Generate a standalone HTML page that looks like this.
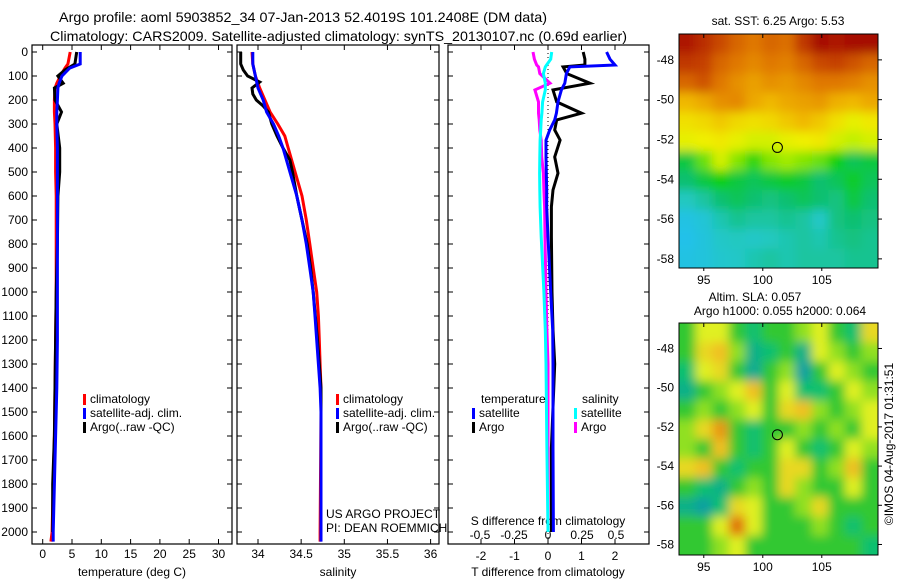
<!DOCTYPE html>
<html><head><meta charset="utf-8"><style>
html,body{margin:0;padding:0;background:#fff}
svg{display:block;font-family:"Liberation Sans",sans-serif}
text{font-size:12px;fill:#000}
</style></head><body>
<svg id="c" width="900" height="580" viewBox="0 0 900 580">
<text x="59" y="22" textLength="488" lengthAdjust="spacingAndGlyphs" style="font-size:14px">Argo profile: aoml 5903852_34 07-Jan-2013 52.4019S 101.2408E (DM data)</text>
<text x="50" y="41" textLength="577" lengthAdjust="spacingAndGlyphs" style="font-size:14px">Climatology: CARS2009. Satellite-adjusted climatology: synTS_20130107.nc (0.69d earlier)</text>
<g id="g"></g>
</svg>
<script>
// ---- data ----
const tDepth = [0,50,67,100,130,150,200,250,300,400,500,600,800,1000,1200,1400,1600,1800,2000,2040];
const tClim  = [4.7,4.3,3.8,3.0,2.4,2.1,2.0,2.0,2.1,2.2,2.2,2.3,2.3,2.3,2.2,2.1,2.0,1.8,1.6,1.4];
const tSat   = [6.4,6.4,4.6,3.3,2.8,2.6,2.5,2.4,2.4,2.5,2.5,2.5,2.5,2.5,2.5,2.4,2.2,2.0,1.8,1.8];
const tArgoD = [0,50,75,100,130,150,200,250,300,400,500,600,800,1000,1200,1400,1600,1800,2000];
const tArgo  = [5.8,5.5,3.8,2.6,3.5,2.0,2.1,3.2,2.4,2.9,2.9,2.6,2.5,2.3,2.2,2.1,2.0,1.7,1.7];
const sDepth = [0,50,100,150,200,250,300,350,400,500,600,700,800,900,1000,1100,1200,1300,1400,1500,2000,2040];
const sClim  = [33.93,33.94,33.97,34.02,34.08,34.14,34.23,34.31,34.35,34.43,34.51,34.56,34.60,34.64,34.68,34.70,34.71,34.72,34.73,34.73,34.72,34.72];
const sSat   = [33.94,33.94,33.97,34.0,34.06,34.10,34.18,34.24,34.29,34.37,34.45,34.51,34.56,34.60,34.64,34.66,34.68,34.70,34.72,34.73,34.73,34.73];
const sArgoD = [0,50,75,100,125,150,175,200,225,250,300,350,400,450,500,600,700,800,900,1000,1200,1400,1500];
const sArgo  = [33.80,33.80,33.83,33.88,34.02,33.93,33.94,33.98,34.06,34.12,34.16,34.22,34.29,34.37,34.40,34.45,34.51,34.57,34.61,34.64,34.69,34.73,34.73];
const dDepth = [0,30,54,62,90,130,158,208,255,283,325,367,437,505,575,645,770,1000,1158,1300,1650,2000];
const dTArgo = [1.05,1.1,1.1,0.45,0.56,1.25,0.15,0.26,1.0,0.26,0.2,0.36,0.2,0.3,0.15,0.1,0.1,0.12,0.15,0.2,0.1,0.1];
const dTSat  = [1.75,1.85,2.0,0.65,0.55,0.5,0.4,0.3,0.25,0.2,0.05,-0.06,-0.06,-0.05,-0.04,-0.04,0.0,0.08,0.14,0.15,0.15,0.16];
const dSArgo = [-0.11,-0.1,-0.083,-0.07,-0.06,0.015,-0.096,-0.07,-0.07,-0.065,-0.06,-0.05,-0.046,-0.034,-0.03,-0.025,-0.022,-0.015,-0.008,0.0,0.0,0.0];
const dSSat  = [0.027,0.02,-0.01,-0.02,-0.034,-0.02,-0.02,-0.04,-0.045,-0.05,-0.054,-0.058,-0.06,-0.062,-0.06,-0.058,-0.05,-0.03,-0.02,-0.015,-0.008,0.0];
const depthTicks = [0,100,200,300,400,500,600,700,800,900,1000,1100,1200,1300,1400,1500,1600,1700,1800,1900,2000];
const tTicks = [0,5,10,15,20,25,30];
const sTicks = [34,34.5,35,35.5,36];
const dTTicks = [-2,-1,0,1,2];
const dSTicks = [-0.5,-0.25,0,0.25,0.5];
const sstLabel = "sat. SST: 6.25 Argo: 5.53";
const sst = [
[8.8,8.6,8.3,8.0,7.8,8.0,7.9,8.5,8.9,8.8,8.9,8.9],
[8.5,8.4,8.0,7.8,7.6,7.8,7.7,8.0,8.3,8.4,8.2,8.0],
[8.0,8.2,7.8,7.5,7.3,7.5,7.4,7.6,7.8,7.8,7.7,7.5],
[7.0,7.2,7.5,7.6,7.2,7.0,7.2,7.3,7.4,7.1,7.0,7.2],
[6.5,6.6,6.8,6.6,6.5,6.6,6.8,7.0,6.8,6.5,6.2,6.4],
[6.2,6.3,6.4,6.2,6.0,6.0,6.2,6.3,6.4,6.0,5.8,6.0],
[5.0,5.5,6.0,5.6,5.3,5.6,5.7,5.6,5.5,5.2,4.9,5.0],
[4.8,5.0,5.2,5.0,4.9,5.0,5.1,5.0,4.8,4.9,5.1,4.9],
[4.3,4.5,4.8,4.9,4.8,4.7,4.8,4.9,4.8,4.7,5.0,4.8],
[3.8,4.0,4.4,4.6,4.5,4.5,4.6,4.5,4.2,4.7,4.8,4.7],
[3.7,3.9,4.2,4.3,4.2,4.3,4.4,4.5,4.4,4.6,4.7,4.6],
[3.8,3.9,4.1,4.2,4.4,4.5,4.4,4.5,4.5,4.5,4.6,4.6]];
const sla = [
[0,.1,.1,0,-.05,0,0,.05,.1,0,-.05,.15],
[0,.15,.2,.05,-.1,-.05,0,-.1,.1,.05,0,.05],
[-.05,.1,.15,0,-.12,0,.05,-.15,0,.1,.05,0],
[-.1,0,.05,.1,.2,0,.1,-.05,-.05,0,.1,.05],
[0,.05,0,.05,.1,0,.15,.2,.05,0,.05,.1],
[.05,.15,.25,0,-.05,0,0,.05,0,.05,0,.1],
[.05,0,.2,0,-.05,0,.1,0,-.05,0,.1,.05],
[.15,.2,0,-.05,0,0,.15,.15,0,.05,.2,0],
[0,-.05,-.1,0,.05,0,.15,.05,0,0,.1,0],
[-.1,-.15,-.05,.15,.1,0,0,.05,.15,0,0,0],
[0,0,.1,.3,.1,0,0,0,.05,0,-.05,0],
[0,0,.05,.1,0,0,0,0,0,0,0,-.05]];
const latTicks = [-48,-50,-52,-54,-56,-58];
const lonTicks = [95,100,105];
const floatLon = 101.24, floatLat = -52.40;

// ---- helpers ----
const NS="http://www.w3.org/2000/svg", G=document.getElementById('g');
function el(tag,attrs,parent){const e=document.createElementNS(NS,tag);for(const k in attrs)e.setAttribute(k,attrs[k]);(parent||G).appendChild(e);return e;}
function txt(x,y,s,anchor,size,parent){const t=el('text',{x:x,y:y,'text-anchor':anchor||'start'},parent);if(size)t.style.fontSize=size+'px';t.textContent=s;return t;}
const Y0=52, YK=0.24;
const yD = d => Y0 + d*YK;
const xT = v => 42.7 + v*5.86;
const xS = v => 258 + (v-34)*86.3;
const xdT = v => 548 + v*33.5;
const xdS = v => 548 + v*136;
const TOP=45, BOT=544;

function panel(x0,x1,name){
  const r=el('rect',{x:x0,y:TOP,width:x1-x0,height:BOT-TOP,fill:'none',stroke:'#000','stroke-width':1.2});
  
  
  depthTicks.forEach(d=>{const y=yD(d);el('line',{x1:x0,x2:x0+5,y1:y,y2:y,stroke:'#000'});el('line',{x1:x1-5,x2:x1,y1:y,y2:y,stroke:'#000'});});
}
function line(xs,ds,fx,color,name,w){
  const pts=xs.map((v,i)=>fx(v).toFixed(1)+','+yD(ds[i]).toFixed(1)).join(' ');
  const p=el('polyline',{points:pts,fill:'none',stroke:color,'stroke-width':w||3,'stroke-linejoin':'miter'});
  
  
}
// panels
panel(32,232,'temperature-panel');
panel(237,439,'salinity-panel');
panel(448,649,'difference-panel');
depthTicks.forEach(d=>{const t=txt(28,yD(d)+4,String(d),'end');});
tTicks.forEach(v=>{const x=xT(v);el('line',{x1:x,x2:x,y1:TOP,y2:TOP+5,stroke:'#000'});el('line',{x1:x,x2:x,y1:BOT-5,y2:BOT,stroke:'#000'});const t=txt(x,558,String(v),'middle');});
sTicks.forEach(v=>{const x=xS(v);el('line',{x1:x,x2:x,y1:TOP,y2:TOP+5,stroke:'#000'});el('line',{x1:x,x2:x,y1:BOT-5,y2:BOT,stroke:'#000'});const t=txt(x,558,String(v),'middle');});
dTTicks.forEach(v=>{const x=xdT(v);el('line',{x1:x,x2:x,y1:TOP,y2:TOP+5,stroke:'#000'});el('line',{x1:x,x2:x,y1:BOT-5,y2:BOT,stroke:'#000'});const t=txt(x,560,String(v),'middle');});
dSTicks.forEach(v=>{const t=txt(xdS(v),539,String(v),'middle');});
let a;
a=txt(132,576,'temperature (deg C)','middle');
a=txt(338,576,'salinity','middle');
a=txt(548,576,'T difference from climatology','middle');
a=txt(548,525,'S difference from climatology','middle');
// zero dotted line
el('line',{x1:548,x2:548,y1:TOP,y2:BOT,stroke:'#000','stroke-dasharray':'1,3'});
// profiles
line(tClim,tDepth,xT,'#f00','temp-climatology-line');
line(tArgo,tArgoD,xT,'#000','temp-argo-line');
line(tSat,tDepth,xT,'#00f','temp-satellite-line');
line(sClim,sDepth,xS,'#f00','sal-climatology-line');
line(sArgo,sArgoD,xS,'#000','sal-argo-line');
line(sSat,sDepth,xS,'#00f','sal-satellite-line');
line(dSArgo,dDepth,xdS,'#f0f','s-diff-argo-line');
line(dSSat,dDepth,xdS,'#0ff','s-diff-satellite-line');
line(dTArgo,dDepth,xdT,'#000','t-diff-argo-line');
line(dTSat,dDepth,xdT,'#00f','t-diff-satellite-line');
// legends
function leg(x,y,color,label,name){el('rect',{x:x,y:y-9,width:3,height:11,fill:color});const t=txt(x+7,y,label);}
leg(83,403,'#f00','climatology','legend-climatology');
leg(83,417,'#00f','satellite-adj. clim.','legend-satellite-adj');
leg(83,431,'#000','Argo(..raw -QC)','legend-argo');
leg(336,403,'#f00','climatology','legend-climatology-sal');
leg(336,417,'#00f','satellite-adj. clim.','legend-satellite-adj-sal');
leg(336,431,'#000','Argo(..raw -QC)','legend-argo-sal');
a=txt(481,403,'temperature');
a=txt(582,403,'salinity');
leg(472,417,'#00f','satellite','legend-t-satellite');
leg(472,431,'#000','Argo','legend-t-argo');
leg(574,417,'#0ff','satellite','legend-s-satellite');
leg(574,431,'#f0f','Argo','legend-s-argo');
a=txt(326,518,'US ARGO PROJECT');
a=txt(326,532,'PI: DEAN ROEMMICH');

// ---- maps ----
function lerpColor(stops,v){
  if(v<=stops[0][0])return stops[0][1];
  for(let i=1;i<stops.length;i++){if(v<=stops[i][0]){const [a0,c0]=stops[i-1],[a1,c1]=stops[i];const t=(v-a0)/(a1-a0);
    const p=s=>[1,3,5].map(k=>parseInt(s.substr(k,2),16));const A=p(c0),B=p(c1);return 'rgb('+A.map((x,j)=>Math.round(x+(B[j]-x)*t)).join(',')+')';}}
  return stops[stops.length-1][1];
}
const sstStops=[[3.6,'#20c0f0'],[4.3,'#20c8c0'],[4.8,'#10c070'],[5.2,'#10d010'],[5.8,'#c0f000'],[6.3,'#f0f000'],[7.0,'#f0b800'],[7.8,'#e07800'],[8.5,'#c03800'],[9.0,'#a00000']];
const slaStops=[[-0.15,'#10a0a0'],[-0.05,'#10c070'],[0,'#30c830'],[0.05,'#90e020'],[0.1,'#e0f020'],[0.2,'#f0c020'],[0.3,'#e07010']];
const defs=el('defs',{});
const f=el('filter',{id:'bl',x:'-10%',y:'-10%',width:'120%',height:'120%'},defs);el('feGaussianBlur',{stdDeviation:5},f);
function map(x0,y0,w,h,grid,stops,lat0,latK,name,cid){
  const lonAt=x=>92.9+(x-x0)/11.8;
  const xL=lon=>x0+(lon-92.9)*11.8, yL=lat=>y0+(-46.7-lat)*latK;
  const cp=el('clipPath',{id:cid},defs);el('rect',{x:x0,y:y0,width:w,height:h},cp);
  const g=el('g',{'clip-path':'url(#'+cid+')'});
  
  
  const gi=el('g',{filter:'url(#bl)'},g);
  const R=grid.length,C=grid[0].length,cw=w/C,ch=h/R;
  for(let r=0;r<R;r++)for(let c=0;c<C;c++){
    let x=x0+c*cw,y=y0+r*ch,ww=cw+0.5,hh=ch+0.5;
    if(c===0){x-=15;ww+=15;} if(c===C-1)ww+=15;
    if(r===0){y-=15;hh+=15;} if(r===R-1)hh+=15;
    const cell=el('rect',{x:x,y:y,width:ww,height:hh,fill:lerpColor(stops,grid[r][c])},gi);
    
    
  }
  el('rect',{x:x0,y:y0,width:w,height:h,fill:'none',stroke:'#000'});
  latTicks.forEach(l=>{const y=yL(l);el('line',{x1:x0+w,x2:x0+w+4,y1:y,y2:y,stroke:'#000'});const t=txt(x0-5,y+4,String(l),'end');});
  lonTicks.forEach(l=>{const x=xL(l);el('line',{x1:x,x2:x,y1:y0,y2:y0+4,stroke:'#000'});el('line',{x1:x,x2:x,y1:y0+h,y2:y0+h+3,stroke:'#000'});const t=txt(x,y0+h+16,String(l),'middle');});
  const m=el('ellipse',{cx:xL(floatLon),cy:yL(floatLat),rx:5,ry:5,fill:'none',stroke:'#000','stroke-width':1});
  
  
}
map(679,34,199,234,sst,sstStops,-46.7,19.9,'sst-map','c1');
map(679,323,199,232,sla,slaStops,-46.7,19.6,'sla-map','c2');
a=txt(778,25,sstLabel,'middle');
a=txt(755,301,'Altim. SLA: 0.057','middle');
a=txt(780,315,'Argo h1000: 0.055 h2000: 0.064','middle');
a=txt(0,0,'©IMOS 04-Aug-2017 01:31:51','middle');a.setAttribute('transform','translate(893,444) rotate(-90)');
</script>
</body></html>
